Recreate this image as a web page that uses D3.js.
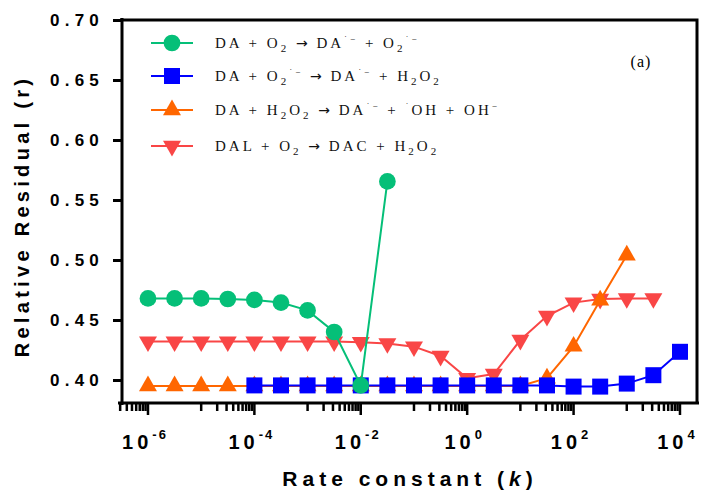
<!DOCTYPE html>
<html>
<head>
<meta charset="utf-8">
<script src="https://cdn.jsdelivr.net/npm/d3@7"></script>
<style>
  html, body { margin: 0; padding: 0; background: #fff; }
  svg { display: block; }
</style>
</head>
<body>
<svg id="chart" width="702" height="493"></svg>
<script>
// log10 of the rate constant k at each sampled point (half-decade steps)
const kGreen  = [-6, -5.5, -5, -4.5, -4, -3.5, -3, -2.5, -2, -1.5];
const rGreen  = [0.468, 0.468, 0.468, 0.4675, 0.4667, 0.4645, 0.458, 0.440, 0.3955, 0.5655];

const kBlue   = [-4, -3.5, -3, -2.5, -2, -1.5, -1, -0.5, 0, 0.5, 1, 1.5, 2, 2.5, 3, 3.5, 4];
const rBlue   = [0.3955, 0.3955, 0.3955, 0.3955, 0.3955, 0.3955, 0.3955, 0.3955, 0.3955, 0.3955, 0.3955, 0.3955, 0.3945, 0.3945, 0.397, 0.404, 0.4235];

const kOrange = [-6, -5.5, -5, -4.5, -4, -3.5, -3, -2.5, -2, -1.5, -1, -0.5, 0, 0.5, 1, 1.5, 2, 2.5, 3];
const rOrange = [0.395, 0.395, 0.395, 0.395, 0.395, 0.395, 0.395, 0.395, 0.395, 0.395, 0.395, 0.395, 0.395, 0.395, 0.395, 0.4015, 0.428, 0.4665, 0.504];

const kRed    = [-6, -5.5, -5, -4.5, -4, -3.5, -3, -2.5, -2, -1.5, -1, -0.5, 0, 0.5, 1, 1.5, 2, 2.5, 3, 3.5];
const rRed    = [0.432, 0.432, 0.432, 0.432, 0.432, 0.432, 0.432, 0.432, 0.4315, 0.4305, 0.4278, 0.420, 0.4015, 0.405, 0.4333, 0.4533, 0.4645, 0.4675, 0.468, 0.468];

const yTicks = [0.40, 0.45, 0.50, 0.55, 0.60, 0.65, 0.70];
const xTickExps = [-6, -4, -2, 0, 2, 4];

// legend lines: [text, kind] with n = normal, b = subscript, p = superscript, a = arrow
const legendRows = [
  [["DA + O", "n"], ["2", "b"], [" ", "n"], ["\u2192", "a"], [" DA", "n"], ["\u02D9\u2212", "p"], [" + O", "n"], ["2", "b"], ["\u02D9\u2212", "p"]],
  [["DA + O", "n"], ["2", "b"], ["\u02D9\u2212", "p"], [" ", "n"], ["\u2192", "a"], [" DA", "n"], ["\u02D9\u2212", "p"], [" + H", "n"], ["2", "b"], ["O", "n"], ["2", "b"]],
  [["DA + H", "n"], ["2", "b"], ["O", "n"], ["2", "b"], [" ", "n"], ["\u2192", "a"], [" DA", "n"], ["\u02D9\u2212", "p"], [" + ", "n"], ["\u02D9", "p"], ["OH + OH", "n"], ["\u2212", "p"]],
  [["DAL + O", "n"], ["2", "b"], [" ", "n"], ["\u2192", "a"], [" DAC + H", "n"], ["2", "b"], ["O", "n"], ["2", "b"]]
];

const series = [
  { k: kGreen,  r: rGreen,  color: "#05BF78", symbol: d3.symbolCircle,   size: 220, rot: 0 },
  { k: kBlue,   r: rBlue,   color: "#0000FF", symbol: d3.symbolSquare,   size: 256, rot: 0 },
  { k: kOrange, r: rOrange, color: "#FF6600", symbol: d3.symbolTriangle, size: 140, rot: 0 },
  { k: kRed,    r: rRed,    color: "#F94646", symbol: d3.symbolTriangle, size: 140, rot: 180 }
];

const svg = d3.select("#chart");

const x = d3.scaleLog().domain([Math.pow(10, -6.526), Math.pow(10, 4.32)]).range([120, 697]);
const y = d3.scaleLinear().domain([0.38083, 0.70]).range([403, 20]);

// frame: top and right edges
svg.append("path")
  .attr("d", `M${x.range()[0]},${y(0.70)}H${x.range()[1]}V${y.range()[0]}`)
  .attr("fill", "none").attr("stroke", "#000").attr("stroke-width", 3);

// y axis
const yAxis = d3.axisLeft(y).tickValues(yTicks).tickFormat(d3.format(".2f")).tickSize(9).tickPadding(9);
const gy = svg.append("g").attr("transform", `translate(122,0)`).call(yAxis);
gy.select(".domain").attr("d", `M0,18V${y.range()[0] + 2}`).attr("stroke-width", 3);
gy.selectAll(".tick line").attr("stroke-width", 3);
gy.selectAll(".tick text")
  .attr("font-family", "Arial, 'Liberation Sans', sans-serif")
  .attr("font-weight", "bold").attr("font-size", 17)
  .attr("letter-spacing", 5.2).attr("fill", "#000");

// x axis: long ticks at every other decade; minor ticks span the odd decades
const gx = svg.append("g").attr("transform", `translate(0,403)`);
gx.append("line").attr("x1", 118).attr("x2", 699).attr("y1", 0).attr("y2", 0)
  .attr("stroke", "#000").attr("stroke-width", 3);

const xTicks = [];
for (let e = -8; e <= 4; e++) {
  if (e % 2 === 0) {
    const v = Math.pow(10, e);
    if (v >= x.domain()[0] && v <= x.domain()[1]) xTicks.push({ v, major: true });
  } else {
    for (let m = 1; m <= 9; m++) {
      const v = m * Math.pow(10, e);
      if (v >= x.domain()[0] && v <= x.domain()[1]) xTicks.push({ v, major: false });
    }
  }
}
gx.selectAll("line.tk").data(xTicks).join("line").attr("class", "tk")
  .attr("x1", d => x(d.v)).attr("x2", d => x(d.v))
  .attr("y1", 0).attr("y2", d => d.major ? 12 : 8)
  .attr("stroke", "#000").attr("stroke-width", 2.5);

const xl = gx.selectAll("text.xl").data(xTickExps).join("text").attr("class", "xl")
  .attr("x", d => x(Math.pow(10, d)) - 3).attr("y", 46)
  .attr("text-anchor", "middle")
  .attr("font-family", "Arial, 'Liberation Sans', sans-serif")
  .attr("font-weight", "bold").attr("fill", "#000");
xl.append("tspan").attr("font-size", 20).attr("letter-spacing", 4).text("10");
xl.append("tspan").attr("font-size", 13).attr("dy", -10).attr("letter-spacing", 2)
  .text(d => d < 0 ? "-" + Math.abs(d) : String(d));

// axis titles
svg.append("text")
  .attr("transform", "translate(29,216) rotate(-90)")
  .attr("text-anchor", "middle")
  .attr("font-family", "Arial, 'Liberation Sans', sans-serif")
  .attr("font-weight", "bold").attr("font-size", 20).attr("letter-spacing", 4.3)
  .text("Relative Residual (r)");

const xt = svg.append("text")
  .attr("x", 410).attr("y", 486).attr("text-anchor", "middle")
  .attr("font-family", "Arial, 'Liberation Sans', sans-serif")
  .attr("font-weight", "bold").attr("font-size", 21).attr("letter-spacing", 5);
xt.append("tspan").text("Rate constant (");
xt.append("tspan").attr("font-style", "italic").text("k");
xt.append("tspan").text(")");

// series, drawn back to front
const line = d3.line().x(d => x(Math.pow(10, d[0]))).y(d => y(d[1]));
[...series].reverse().forEach(s => {
  const pts = s.k.map((k, i) => [k, s.r[i]]);
  const g = svg.append("g");
  g.append("path").attr("d", line(pts)).attr("fill", "none")
    .attr("stroke", s.color).attr("stroke-width", 2);
  g.selectAll("path.m").data(pts).join("path").attr("class", "m")
    .attr("d", d3.symbol().type(s.symbol).size(s.size))
    .attr("transform", d => `translate(${x(Math.pow(10, d[0]))},${y(d[1])}) rotate(${s.rot})`)
    .attr("fill", s.color);
});

// legend
const legendY = [43, 76, 110, 146];
const lg = svg.append("g");
series.forEach((s, i) => {
  const ly = legendY[i];
  lg.append("line").attr("x1", 151).attr("x2", 193).attr("y1", ly).attr("y2", ly)
    .attr("stroke", s.color).attr("stroke-width", 2);
  lg.append("path").attr("d", d3.symbol().type(s.symbol).size(s.size)())
    .attr("transform", `translate(172,${ly}) rotate(${s.rot})`).attr("fill", s.color);
  const t = lg.append("text").attr("x", 215).attr("y", ly + 5)
    .attr("font-family", "'Liberation Serif', 'Times New Roman', serif")
    .attr("font-size", 15).attr("letter-spacing", 3).attr("fill", "#111");
  let shift = 0;
  legendRows[i].forEach(([txt, kind]) => {
    const target = kind === "b" ? 4 : kind === "p" ? -6 : 0;
    const ts = t.append("tspan").attr("dy", target - shift).text(txt);
    if (kind === "b") ts.attr("font-size", 11);
    if (kind === "p") ts.attr("font-size", 9);
    if (kind === "a") ts.attr("font-family", "'DejaVu Sans', sans-serif").attr("font-size", 14).attr("letter-spacing", 2);
    shift = target;
  });
});

svg.append("text").attr("x", 641).attr("y", 67).attr("text-anchor", "middle")
  .attr("font-family", "'Liberation Serif', 'Times New Roman', serif")
  .attr("font-size", 16).attr("letter-spacing", 1).text("(a)");
</script>
</body>
</html>
